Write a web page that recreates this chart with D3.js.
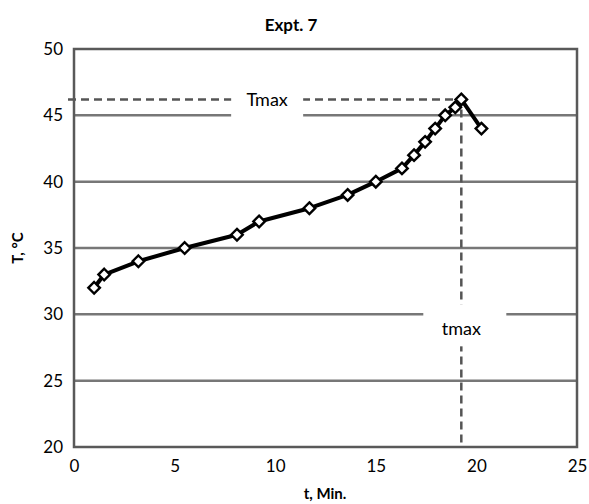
<!DOCTYPE html>
<html>
<head>
<meta charset="utf-8">
<script src="https://cdn.jsdelivr.net/npm/d3@7"></script>
<style>
  body { margin: 0; background: #fff; }
  svg { font-family: Lato, "Open Sans", sans-serif; }
</style>
</head>
<body>
<div id="vis1"></div>
<script>
// data
let times = [1.0, 1.5, 3.2, 5.5, 8.1, 9.2, 11.7, 13.6, 15.0, 16.3, 16.9, 17.45, 17.95, 18.45, 18.95, 19.25, 20.25];
let temps = [32, 33, 34, 35, 36, 37, 38, 39, 40, 41, 42, 43, 44, 45, 45.6, 46.2, 44];
let xTicks = [0, 5, 10, 15, 20, 25];
let yTicks = [20, 25, 30, 35, 40, 45, 50];
let peakT = [46.2];
let peakTime = [19.25];

let margin = { top: 49, left: 74, right: 12, bottom: 57 },
  width = 589 - margin.left - margin.right,
  height = 504 - margin.top - margin.bottom;

let svg = d3.select('#vis1')
  .append('svg')
  .attr('width', 589)
  .attr('height', 504);

let g = svg.append('g')
  .attr('transform', `translate(${margin.left},${margin.top})`);

let x = d3.scaleLinear().domain([0, 25]).range([0, width]);
let y = d3.scaleLinear().domain([20, 50]).range([height, 0]);

// horizontal grid
g.selectAll('.grid')
  .data(yTicks.filter(d => d > 20 && d < 50))
  .enter().append('line')
  .attr('x1', 0).attr('x2', width)
  .attr('y1', d => y(d)).attr('y2', d => y(d))
  .attr('stroke', '#777')
  .attr('stroke-width', 2.5);

// Tmax / tmax dashed guides
g.append('line')
  .attr('x1', -6).attr('x2', x(peakTime[0]) + 9)
  .attr('y1', y(peakT[0])).attr('y2', y(peakT[0]))
  .attr('stroke', '#555').attr('stroke-width', 2.5)
  .attr('stroke-dasharray', '8,5');

g.append('line')
  .attr('x1', x(peakTime[0])).attr('x2', x(peakTime[0]))
  .attr('y1', y(peakT[0]) - 3).attr('y2', height)
  .attr('stroke', '#555').attr('stroke-width', 2.5)
  .attr('stroke-dasharray', '8,5');

// data line
let line = d3.line()
  .x((d, i) => x(times[i]))
  .y(d => y(d));

g.append('path')
  .datum(temps)
  .attr('fill', 'none')
  .attr('stroke', '#000')
  .attr('stroke-width', 4)
  .attr('stroke-linejoin', 'round')
  .attr('d', line);

g.selectAll('.pt')
  .data(temps)
  .enter().append('path')
  .attr('transform', (d, i) => `translate(${x(times[i])},${y(d)})`)
  .attr('d', d3.symbol().type(d3.symbolDiamond2).size(85))
  .attr('fill', '#fff')
  .attr('stroke', '#000')
  .attr('stroke-width', 2.4);

// label boxes
let lbl1x = x(9.6), lbl1y = y(peakT[0]);
g.append('rect')
  .attr('x', lbl1x - 36).attr('y', lbl1y - 12)
  .attr('width', 72).attr('height', 36)
  .attr('fill', '#fff');
g.append('text')
  .attr('x', lbl1x).attr('y', lbl1y + 7)
  .attr('text-anchor', 'middle')
  .style('font-size', '18px')
  .text('Tmax');

let lbl2x = x(peakTime[0]), lbl2y = y(30);
g.append('rect')
  .attr('x', lbl2x - 38).attr('y', lbl2y - 10)
  .attr('width', 83).attr('height', 42)
  .attr('fill', '#fff');
g.append('text')
  .attr('x', lbl2x).attr('y', lbl2y + 21)
  .attr('text-anchor', 'middle')
  .style('font-size', '18px')
  .text('tmax');

// plot border
g.append('rect')
  .attr('width', width).attr('height', height)
  .attr('fill', 'none')
  .attr('stroke', '#595959')
  .attr('stroke-width', 2.5);

// axes
let xAxis = g.append('g')
  .attr('transform', `translate(0,${height})`)
  .call(d3.axisBottom(x).tickValues(xTicks).tickSize(0).tickPadding(13));
let yAxis = g.append('g')
  .call(d3.axisLeft(y).tickValues(yTicks).tickSize(0).tickPadding(11));
[xAxis, yAxis].forEach(a => {
  a.select('.domain').remove();
  a.selectAll('text')
    .style('font-family', 'Lato, "Open Sans", sans-serif')
    .style('font-size', '17px')
    .attr('fill', '#000');
});

// titles
svg.append('text')
  .attr('x', 291).attr('y', 31)
  .attr('text-anchor', 'middle')
  .style('font-size', '17px')
  .style('font-weight', 'bold')
  .text('Expt. 7');

svg.append('text')
  .attr('x', 325).attr('y', 499)
  .attr('text-anchor', 'middle')
  .style('font-size', '15px')
  .style('font-weight', 'bold')
  .text('t, Min.');

svg.append('text')
  .attr('transform', 'translate(23,248) rotate(-90)')
  .attr('text-anchor', 'middle')
  .style('font-size', '15px')
  .style('font-weight', 'bold')
  .text('T, °C');
</script>
</body>
</html>
